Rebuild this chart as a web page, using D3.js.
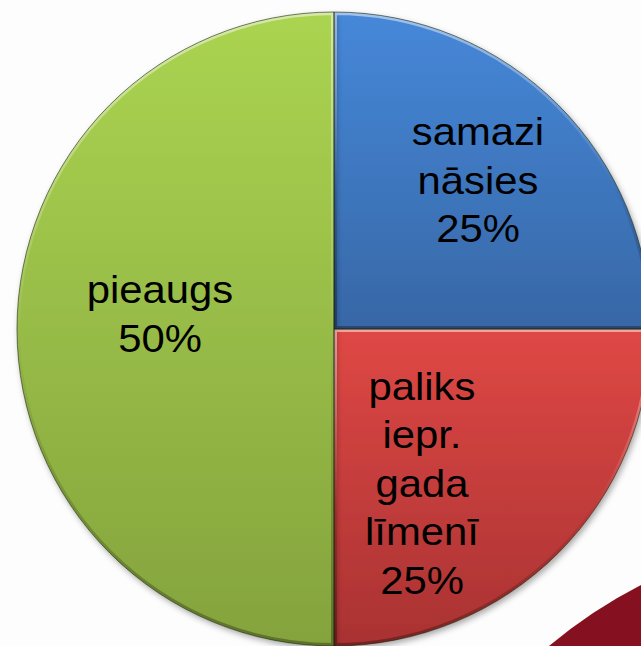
<!DOCTYPE html>
<html>
<head>
<meta charset="utf-8">
<script src="https://cdn.jsdelivr.net/npm/d3@7"></script>
<style>
html,body{margin:0;padding:0;background:#fdfdfd;}
svg{display:block;}
</style>
</head>
<body>
<script>
// ---- data ----
const categories = ["samazināsies", "paliks iepr. gada līmenī", "pieaugs"];
const values = [25, 25, 50];
const labelLines = [["samazi", "nāsies", "25%"], ["paliks", "iepr.", "gada", "līmenī", "25%"], ["pieaugs", "50%"]];
const colorsTop = ["#4688d9", "#df4845", "#abd451"];
const colorsBottom = ["#3767a6", "#a93232", "#84a33d"];

// ---- layout ----
const W = 641, H = 646;
const cx = 334, cy = 329, R = 317;
// label placement: [radius factor, angle shift in degrees]
const labelPlace = [[0.623, 1.8], [0.598, 17.35], [0.549, 0.5]];

const svg = d3.select("body").append("svg").attr("width", W).attr("height", H);
const defs = svg.append("defs");

// background decoration (dark red swoosh)
svg.append("path")
  .attr("d", `M549,${H} Q592,610 ${W},585 L${W},${H} Z`)
  .attr("fill", "#85101f");

colorsTop.forEach((c, i) => {
  const g = defs.append("linearGradient").attr("id", "g" + i)
    .attr("x1", 0).attr("y1", 0).attr("x2", 0).attr("y2", 1);
  g.append("stop").attr("offset", "0%").attr("stop-color", c);
  g.append("stop").attr("offset", "100%").attr("stop-color", colorsBottom[i]);
});
const bev = defs.append("linearGradient").attr("id", "bevel")
  .attr("x1", 0).attr("y1", 0).attr("x2", 0).attr("y2", 1);
bev.append("stop").attr("offset", "0%").attr("stop-color", "#fff").attr("stop-opacity", 0.5);
bev.append("stop").attr("offset", "45%").attr("stop-color", "#fff").attr("stop-opacity", 0.08);
bev.append("stop").attr("offset", "60%").attr("stop-color", "#000").attr("stop-opacity", 0.06);
bev.append("stop").attr("offset", "100%").attr("stop-color", "#000").attr("stop-opacity", 0.3);

const shadow = defs.append("filter").attr("id", "shadow")
  .attr("x", "-10%").attr("y", "-10%").attr("width", "120%").attr("height", "120%");
shadow.append("feDropShadow").attr("dx", 2).attr("dy", 3).attr("stdDeviation", 3)
  .attr("flood-color", "#000").attr("flood-opacity", 0.35);

const pie = d3.pie().sort(null).value(d => d)(values);
const arc = d3.arc().innerRadius(0).outerRadius(R);

pie.forEach((d, i) => {
  defs.append("clipPath").attr("id", "c" + i)
    .append("path").attr("d", arc(d));
});

const g = svg.append("g").attr("transform", `translate(${cx},${cy})`);

g.append("g").selectAll("path").data(pie).join("path")
  .attr("d", arc)
  .attr("fill", (d, i) => `url(#g${i})`)
  .attr("filter", "url(#shadow)");

// inner bevel
g.append("g").selectAll("path").data(pie).join("path")
  .attr("clip-path", (d, i) => `url(#c${i})`)
  .attr("d", arc)
  .attr("fill", "none")
  .attr("stroke", "url(#bevel)")
  .attr("stroke-width", 6);

// thin outline
g.append("g").selectAll("path").data(pie).join("path")
  .attr("d", arc)
  .attr("fill", "none")
  .attr("stroke", "#1f2a0c")
  .attr("stroke-opacity", 0.6)
  .attr("stroke-width", 1);

// labels
const fs = 38, lh = 48.5;
pie.forEach((d, i) => {
  const mid = (d.startAngle + d.endAngle) / 2 + labelPlace[i][1] * Math.PI / 180;
  const r = R * labelPlace[i][0];
  const x = cx + r * Math.sin(mid);
  const y = cy - r * Math.cos(mid);
  const lines = labelLines[i];
  const t = svg.append("text")
    .attr("transform", `translate(${x},${y}) scale(1.1,1)`)
    .attr("text-anchor", "middle")
    .attr("font-family", "'Liberation Sans', Arial, sans-serif")
    .attr("font-size", fs)
    .attr("fill", "#000");
  lines.forEach((s, k) => {
    t.append("tspan").attr("x", 0)
      .attr("y", (k - (lines.length - 1) / 2) * lh)
      .text(s);
  });
});
</script>
</body>
</html>
